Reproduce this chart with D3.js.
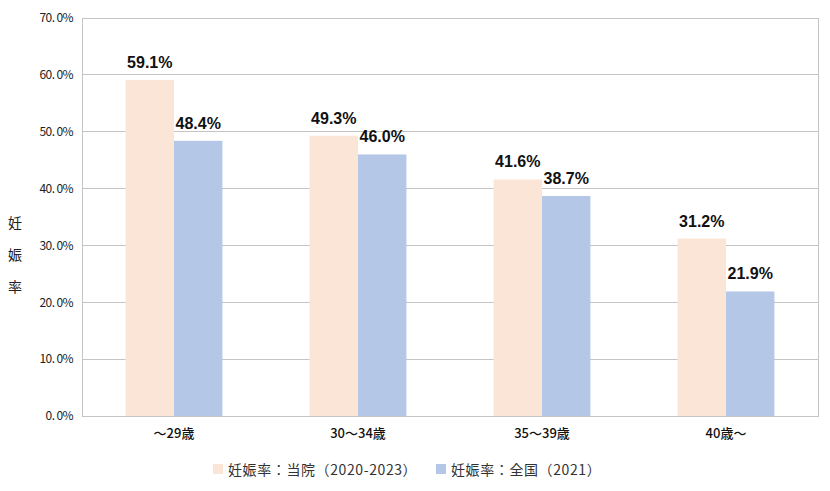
<!DOCTYPE html>
<html><head><meta charset="utf-8">
<script src="https://cdn.jsdelivr.net/npm/d3@7"></script>
<style>
body{margin:0;background:#fff;}
svg{display:block;font-family:"Noto Sans CJK JP","Noto Sans",sans-serif;}
</style></head>
<body><svg id="c" width="830" height="491"></svg>
<script>
const categories = ["〜29歳", "30〜34歳", "35〜39歳", "40歳〜"];
const seriesNames = ["妊娠率：当院（2020-2023）", "妊娠率：全国（2021）"];
const hospital = [59.1, 49.3, 41.6, 31.2];
const national = [48.4, 46.0, 38.7, 21.9];
const yTicks = [0, 10, 20, 30, 40, 50, 60, 70];
const colors = ["#FBE5D6", "#B4C7E7"];

const svg = d3.select("#c");
const L = 82, R = 818, T = 18, B = 416;
const x = d3.scaleBand().domain(categories).range([L, R]);
const xs = d3.scaleBand().domain([0, 1]).range([0, x.bandwidth()]).paddingOuter(0.9);
const y = d3.scaleLinear().domain([0, 70]).range([B, T]);

// gridlines
svg.append("g").selectAll("line").data(yTicks).join("line")
  .attr("x1", L).attr("x2", R).attr("y1", d => y(d)).attr("y2", d => y(d))
  .attr("stroke", "#c4c4c4").attr("stroke-width", 1).attr("shape-rendering", "crispEdges");
// frame
svg.append("rect").attr("x", L).attr("y", T).attr("width", R - L).attr("height", B - T)
  .attr("fill", "none").attr("stroke", "#c4c4c4").attr("shape-rendering", "crispEdges");

const data = [hospital, national];
const groups = svg.append("g");
data.forEach((vals, si) => {
  groups.append("g").selectAll("rect").data(vals).join("rect")
    .attr("x", (d, i) => x(categories[i]) + xs(si))
    .attr("width", xs.bandwidth())
    .attr("y", d => y(d))
    .attr("height", d => B - y(d))
    .attr("fill", colors[si]);
  groups.append("g").selectAll("text").data(vals).join("text")
    .attr("x", (d, i) => x(categories[i]) + xs(si) + xs.bandwidth() / 2)
    .attr("y", d => y(d) - 12)
    .attr("text-anchor", "middle")
    .attr("font-size", 16).attr("font-weight", "bold").attr("fill", "#111")
    .attr("font-family", "'Liberation Sans',Arial,sans-serif")
    .text(d => d.toFixed(1) + "%");
});

// y axis
const yAxis = d3.axisLeft(y).tickValues(yTicks).tickSize(0).tickPadding(9)
  .tickFormat(d => d.toFixed(1).replace(".", ".\u00a0") + "%");
const ga = svg.append("g").attr("transform", `translate(${L},0)`).call(yAxis);
ga.select(".domain").remove();
ga.selectAll("text").attr("font-size", 12).attr("fill", "#222")
  .attr("font-family", "'Noto Sans CJK JP',sans-serif").attr("letter-spacing", "-0.6");

// x axis
const xAxis = d3.axisBottom(x).tickSize(0).tickPadding(13);
const gx = svg.append("g").attr("transform", `translate(0,${B})`).call(xAxis);
gx.select(".domain").remove();
gx.selectAll("text").attr("font-size", 13).attr("fill", "#111").attr("font-weight", "500")
  .attr("font-family", "'Noto Sans CJK JP',sans-serif");

// y title
const title = "妊娠率".split("");
svg.append("g").selectAll("text").data(title).join("text")
  .attr("x", 15).attr("y", (d, i) => 228 + i * 32)
  .attr("text-anchor", "middle").attr("font-size", 14).attr("fill", "#222")
  .text(d => d);

// legend
const lx = [213, 436];
const lg = svg.append("g");
seriesNames.forEach((n, i) => {
  lg.append("rect").attr("x", lx[i]).attr("y", 464).attr("width", 10).attr("height", 10).attr("fill", colors[i]);
  lg.append("text").attr("x", lx[i] + 15).attr("y", 475).attr("font-size", 14).attr("fill", "#333")
    .attr("letter-spacing", "0.6")
    .text(n);
});
</script></body></html>
